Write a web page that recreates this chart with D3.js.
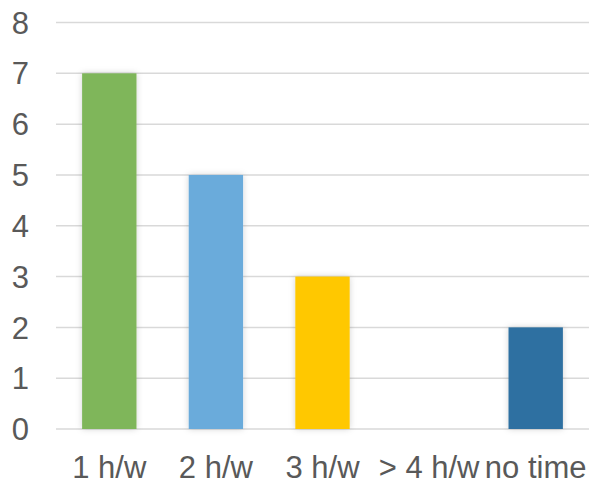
<!DOCTYPE html>
<html><head><meta charset="utf-8">
<script src="https://cdn.jsdelivr.net/npm/d3@7"></script>
<style>body{margin:0;background:#fff}svg{display:block}</style>
</head><body>
<script>
const categories = ["1 h/w", "2 h/w", "3 h/w", "> 4 h/w", "no time"];
const values = [7, 5, 3, 0, 2];
const colors = ["#7fb65a", "#6aabdb", "#ffc800", "#a5a5a5", "#2e70a1"];
const yTicks = [0, 1, 2, 3, 4, 5, 6, 7, 8];

const W = 592, H = 482;
const svg = d3.select("body").append("svg").attr("width", W).attr("height", H);
const defs = svg.append("defs");
const f = defs.append("filter").attr("id", "sh").attr("x", "-30%").attr("y", "-10%").attr("width", "160%").attr("height", "120%");
f.append("feDropShadow").attr("dx", 0).attr("dy", 0).attr("stdDeviation", 3).attr("flood-color", "#000").attr("flood-opacity", 0.18);

const x = d3.scaleBand().domain(categories).range([56, 589]).paddingInner(0.49).paddingOuter(0.245);
const y = d3.scaleLinear().domain([0, 8]).range([429, 22.5]);

const font = "'Liberation Sans', Arial, sans-serif";

svg.append("g").selectAll("line").data(yTicks).join("line")
  .attr("x1", 56).attr("x2", 589)
  .attr("y1", d => y(d)).attr("y2", d => y(d))
  .attr("stroke", "#d9d9d9").attr("stroke-width", 1.5);

svg.append("g").selectAll("rect").data(values).join("rect")
  .attr("x", (d, i) => x(categories[i]))
  .attr("width", x.bandwidth())
  .attr("y", d => y(d))
  .attr("height", d => y(0) - y(d))
  .attr("fill", (d, i) => colors[i])
  .attr("filter", "url(#sh)");

svg.append("g").selectAll("text").data(yTicks).join("text")
  .attr("x", 29).attr("y", d => y(d)).attr("dy", "0.36em")
  .attr("text-anchor", "end")
  .attr("font-family", font).attr("font-size", 31).attr("fill", "#595959")
  .text(d => d);

svg.append("g").selectAll("text").data(categories).join("text")
  .attr("x", d => x(d) + x.bandwidth() / 2).attr("y", 478)
  .attr("text-anchor", "middle")
  .attr("font-family", font).attr("font-size", 31).attr("fill", "#595959")
  .text(d => d);
</script>
</body></html>
